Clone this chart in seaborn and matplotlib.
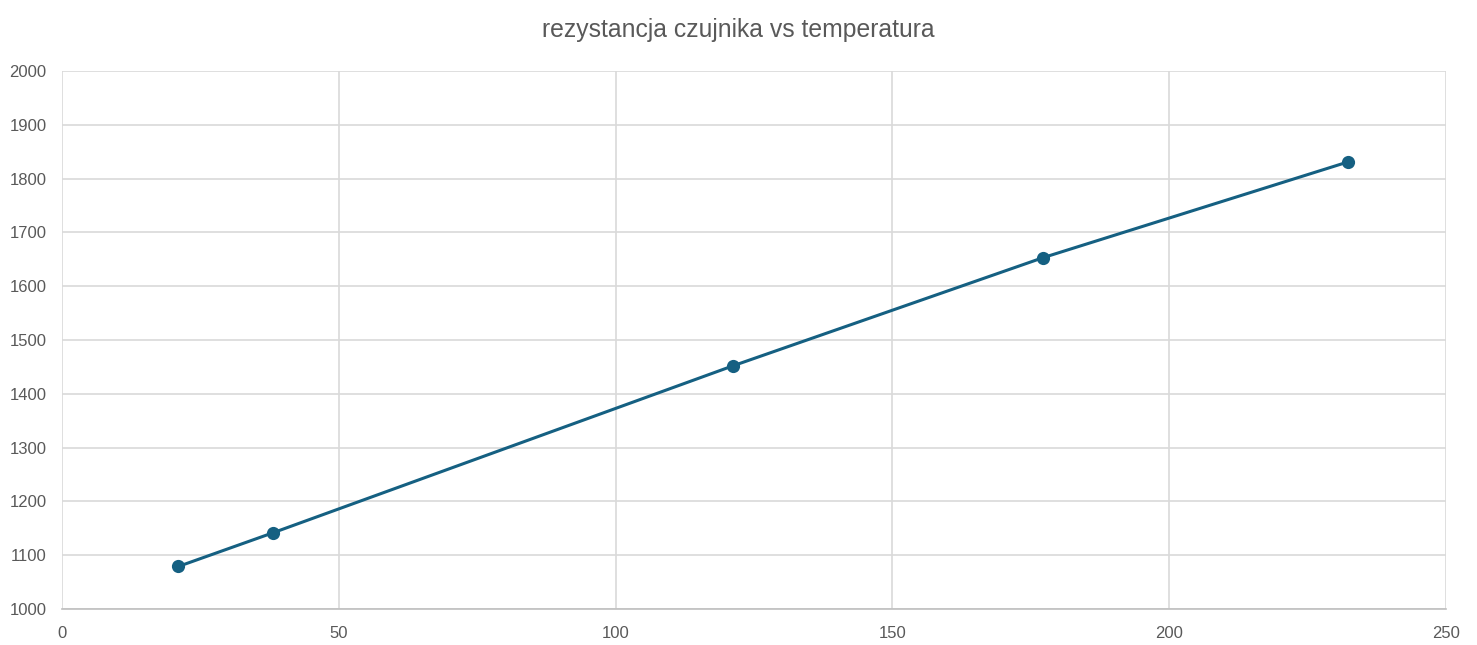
import pandas as pd
import seaborn as sns
import matplotlib.pyplot as plt

temperatura = [21, 38.2, 121.2, 177.2, 232.3]
rezystancja = [1079, 1142, 1452, 1653, 1831]

df = pd.DataFrame({'temperatura': temperatura, 'rezystancja': rezystancja})

sns.set_theme(style="white")
plt.rcParams['font.family'] = ['Liberation Sans', 'DejaVu Sans']

fig = plt.figure(figsize=(14.77, 6.45), dpi=100)
ax = fig.add_axes([62 / 1477, 36 / 645, 1384 / 1477, 538 / 645])

sns.lineplot(data=df, x='temperatura', y='rezystancja', color='#156082',
             linewidth=2.2, marker='o', markersize=9.5, markeredgewidth=0, ax=ax)

ax.set_xlim(0, 250)
ax.set_ylim(1000, 2000)
ax.set_xticks(range(0, 251, 50))
ax.set_yticks(range(1000, 2001, 100))
ax.grid(True, color='#d9d9d9', linewidth=1.2)
ax.set_axisbelow(True)
for side in ['top', 'right', 'left']:
    ax.spines[side].set_visible(False)
ax.spines['bottom'].set_color('#bfbfbf')
ax.spines['bottom'].set_linewidth(1.2)
ax.tick_params(axis='both', length=0, labelsize=12, labelcolor='#595959')
ax.tick_params(axis='x', pad=12)
ax.tick_params(axis='y', pad=11)
ax.set_xlabel('')
ax.set_ylabel('')

fig.text(0.5, 1 - 30 / 645, 'rezystancja czujnika vs temperatura', ha='center', va='center',
         fontsize=17.8, color='#595959')

fig.savefig('out.png', dpi=100)
